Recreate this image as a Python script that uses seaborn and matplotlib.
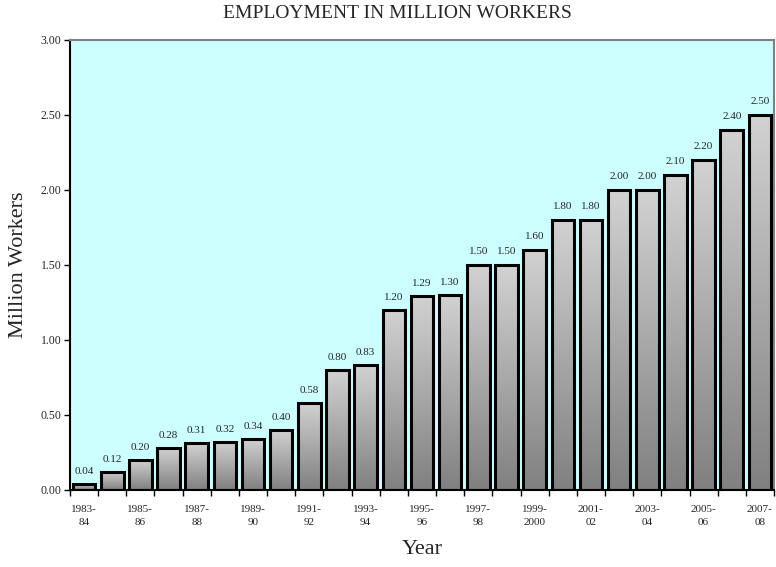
import numpy as np
import pandas as pd
import matplotlib
matplotlib.use("Agg")
import matplotlib.pyplot as plt
import seaborn as sns
from matplotlib.colors import LinearSegmentedColormap

years = ["1983-84", "1984-85", "1985-86", "1986-87", "1987-88", "1988-89", "1989-90",
         "1990-91", "1991-92", "1992-93", "1993-94", "1994-95", "1995-96", "1996-97",
         "1997-98", "1998-99", "1999-2000", "2000-01", "2001-02", "2002-03", "2003-04",
         "2004-05", "2005-06", "2006-07", "2007-08"]
values = [0.04, 0.12, 0.20, 0.28, 0.31, 0.32, 0.34, 0.40, 0.58, 0.80, 0.83, 1.20, 1.29,
          1.30, 1.50, 1.50, 1.60, 1.80, 1.80, 2.00, 2.00, 2.10, 2.20, 2.40, 2.50]
tick_labels = ["1983-\n84", "1985-\n86", "1987-\n88", "1989-\n90", "1991-\n92", "1993-\n94",
               "1995-\n96", "1997-\n98", "1999-\n2000", "2001-\n02", "2003-\n04",
               "2005-\n06", "2007-\n08"]

sns.set_style("white")
plt.rcParams['font.family'] = ['Liberation Serif', 'DejaVu Serif']

df = pd.DataFrame({"year": years, "value": values})

fig = plt.figure(figsize=(7.76, 5.67), dpi=100)
ax = fig.add_axes([70/776, 1-490/567, 704/776, 450.5/567])
ax.set_facecolor("#CCFFFF")

sns.barplot(data=df, x="year", y="value", ax=ax, width=0.8,
            color="#AAAAAA", edgecolor="black", linewidth=2.2, saturation=1)

grad = np.linspace(0, 1, 256).reshape(-1, 1)
cmap = LinearSegmentedColormap.from_list("g", ["#808080", "#D2D2D2"])
for p, v in zip(ax.patches, values):
    x0 = p.get_x(); w = p.get_width(); h = p.get_height()
    im = ax.imshow(grad, cmap=cmap, aspect="auto", origin="lower",
                   extent=[x0, x0 + w, 0, h], zorder=2.5,
                   interpolation="bilinear")
    im.set_clip_path(p)
    p.set_facecolor("none")
    p.set_zorder(3)
    ax.text(x0 + w / 2, h + 0.055, f"{v:.2f}", ha="center", va="bottom", fontsize=8)

ax.set_xlim(-0.5, len(values) - 0.5)
ax.set_ylim(0, 3.0)
ax.set_yticks(np.arange(0, 3.01, 0.5))
ax.set_yticklabels([f"{t:.2f}" for t in np.arange(0, 3.01, 0.5)], fontsize=8.5)
ax.set_xticks(range(0, len(values), 2))
ax.set_xticklabels(tick_labels, fontsize=8, linespacing=1.5)
ax.set_xticks(np.arange(-0.5, len(values), 1), minor=True)
ax.tick_params(axis="x", which="major", length=0, pad=11)
ax.tick_params(axis="x", which="minor", length=4, width=1, direction="out", color="black", bottom=True)
ax.tick_params(axis="y", length=4, width=1, direction="out", color="black", pad=2, left=True)

for s in ["left", "bottom"]:
    ax.spines[s].set_color("black"); ax.spines[s].set_linewidth(1.5)
for s in ["top", "right"]:
    ax.spines[s].set_color("#808080"); ax.spines[s].set_linewidth(1.5)
    ax.spines[s].set_visible(True)

ax.set_xlabel("Year", fontsize=16)
ax.xaxis.set_label_coords((422 - 70) / 704, (490 - 550) / 450.5)
ax.xaxis.label.set_va("center")
ax.set_ylabel("Million Workers", fontsize=16)
ax.yaxis.set_label_coords((19 - 70) / 704, 0.5)
ax.yaxis.label.set_va("center")
fig.text(397/776, 1 - 13/567, "EMPLOYMENT IN MILLION WORKERS", ha="center", va="center", fontsize=14)

fig.savefig("out.png", dpi=100)
